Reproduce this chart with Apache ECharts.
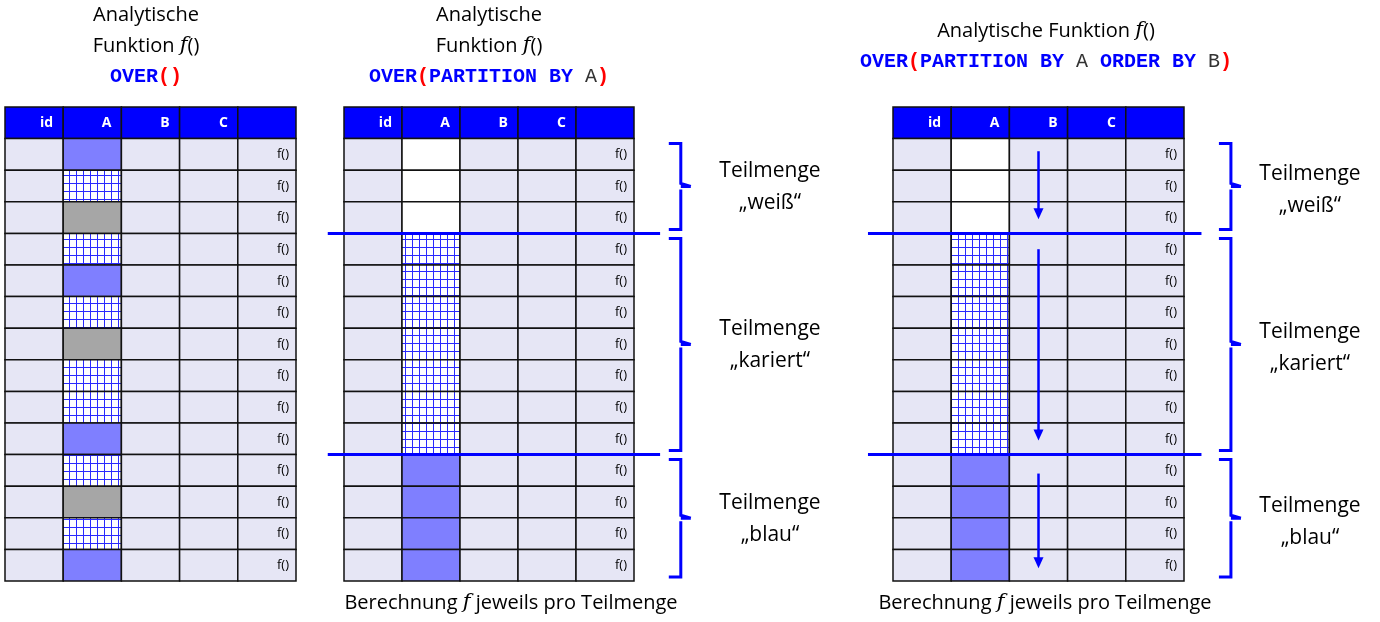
<!DOCTYPE html>
<html><head><meta charset="utf-8">
<script src="https://cdn.jsdelivr.net/npm/echarts@6/dist/echarts.min.js"></script>
<style>html,body{margin:0;padding:0;background:#fff}#main{width:1380px;height:622px}</style>
</head><body><div id="main"></div>
<script>
// Spaltenkoepfe und Zellinhalte
var headers = ['id', 'A', 'B', 'C', ''];
var colA1 = ['blue','check','gray','check','blue','check','gray','check','check','blue','check','gray','check','blue'];
var colA2 = ['white','white','white','check','check','check','check','check','check','check','blue','blue','blue','blue'];
var groups = [[0, 3, 'Teilmenge', '\u201eweiß\u201c'], [3, 10, 'Teilmenge', '\u201ekariert\u201c'], [10, 14, 'Teilmenge', '\u201eblau\u201c']];
var splitRows = [3, 10];

var fills = { base: '#e6e6f5', head: '#0000ff', blue: '#7f7fff', gray: '#a6a6a6', white: '#ffffff' };

// Karomuster
var pc = document.createElement('canvas');
pc.width = 7; pc.height = 8;
var g = pc.getContext('2d');
g.fillStyle = '#fff'; g.fillRect(0, 0, 7, 8);
g.fillStyle = '#2a2aff'; g.fillRect(6, 0, 1, 8); g.fillRect(0, 7, 7, 1);
fills.check = { image: pc, repeat: 'repeat' };

function buildCells(colA) {
    var out = [];
    for (var c = 0; c < 5; c++) out.push([c, 0, 'head', headers[c]]);
    for (var r = 0; r < colA.length; r++) {
        for (var c = 0; c < 5; c++) {
            out.push([c, r + 1, c == 1 ? colA[r] : 'base', c == 4 ? 'f()' : '']);
        }
    }
    return out;
}

function cellSeries(idx, cells) {
    return {
        type: 'custom', xAxisIndex: idx, yAxisIndex: idx, silent: true,
        data: cells.map(function (d) { return [d[0], d[1]]; }),
        renderItem: function (params, api) {
            var d = cells[params.dataIndex];
            var p0 = api.coord([d[0], d[1]]), p1 = api.coord([d[0] + 1, d[1] + 1]);
            var head = d[2] == 'head';
            return {
                type: 'group', children: [
                    { type: 'rect', shape: { x: p0[0], y: p0[1], width: p1[0] - p0[0], height: p1[1] - p0[1] },
                      style: { fill: fills[d[2]], stroke: '#111', lineWidth: 1.5 } },
                    { type: 'text', style: { text: d[3], x: p1[0] - (head ? 10 : 7), y: (p0[1] + p1[1]) / 2,
                      align: 'right', verticalAlign: 'middle', fill: head ? '#fff' : '#000',
                      font: (head ? 'bold 14px' : '13px') + ' "Open Sans", sans-serif' } }
                ]
            };
        }
    };
}

function lineSeries(idx, x0, x1) {
    return {
        type: 'custom', xAxisIndex: idx, yAxisIndex: idx, silent: true,
        data: splitRows.map(function (r) { return [r + 1]; }),
        renderItem: function (params, api) {
            var r = api.value(0);
            var a = api.coord([x0, r]), b = api.coord([x1, r]);
            return { type: 'line', shape: { x1: a[0], y1: a[1], x2: b[0], y2: b[1] }, style: { stroke: '#0000ff', lineWidth: 3 } };
        }
    };
}

function braceSeries(idx, bx) {
    return {
        type: 'custom', xAxisIndex: idx, yAxisIndex: idx, silent: true,
        data: groups.map(function (gr) { return [gr[0] + 1, gr[1] + 1]; }),
        renderItem: function (params, api) {
            var t = api.coord([bx, api.value(0)]), b = api.coord([bx, api.value(1)]);
            var x0 = t[0], x1 = x0 + 12, x2 = x0 + 22;
            var y0 = t[1] + 5, y1 = b[1] - 4, ym = (y0 + y1) / 2;
            var path = 'M' + x0 + ' ' + y0 + ' L' + x1 + ' ' + y0 + ' L' + x1 + ' ' + (ym - 3) + ' L' + x2 + ' ' + ym +
                ' M' + x1 + ' ' + (ym + 3) + ' L' + x1 + ' ' + y1 + ' L' + x0 + ' ' + y1 + ' M' + x1 + ' ' + ym + ' L' + x2 + ' ' + ym;
            return { type: 'path', shape: { pathData: path }, style: { fill: null, stroke: '#0000ff', lineWidth: 3 } };
        }
    };
}

function arrowSeries(idx) {
    var spans = [[1.4, 3.55], [4.5, 10.55], [11.6, 14.6]];
    return {
        type: 'custom', xAxisIndex: idx, yAxisIndex: idx, silent: true,
        data: spans,
        renderItem: function (params, api) {
            var a = api.coord([2.5, api.value(0)]), b = api.coord([2.5, api.value(1)]);
            return { type: 'group', children: [
                { type: 'line', shape: { x1: a[0], y1: a[1], x2: b[0], y2: b[1] - 8 }, style: { stroke: '#0000ff', lineWidth: 2.5 } },
                { type: 'polygon', shape: { points: [[b[0] - 5, b[1] - 11], [b[0] + 5, b[1] - 11], [b[0], b[1]]] }, style: { fill: '#0000ff' } }
            ] };
        }
    };
}

var grids = [
    { left: 5, top: 107, width: 291, height: 474 },
    { left: 344, top: 107, width: 290, height: 474 },
    { left: 893, top: 107, width: 291, height: 474 }
];
var xAxes = [], yAxes = [];
grids.forEach(function (gr, i) {
    xAxes.push({ type: 'value', gridIndex: i, min: 0, max: 5, show: false });
    yAxes.push({ type: 'value', gridIndex: i, min: 0, max: 15, inverse: true, show: false });
});

var sans = '"Open Sans", "Noto Sans", sans-serif';
var rich = {
    t: { font: '20px ' + sans, fill: '#000', lineHeight: 30 },
    f: { font: 'italic 21px "DejaVu Serif", serif', fill: '#000' },
    k: { font: 'bold 20px "Liberation Mono", monospace', fill: '#0000ff' },
    p: { font: 'bold 20px "Liberation Mono", monospace', fill: '#ff0000' },
    n: { font: '20px "Liberation Mono", monospace', fill: '#333' }
};
function txt(x, y, t, extra) {
    return { type: 'text', x: x, y: y, style: Object.assign({ text: t, align: 'center', verticalAlign: 'middle', font: '21px ' + sans, fill: '#000', lineHeight: 31 }, extra || {}) };
}
function title(x, y, t) {
    return { type: 'text', x: x, y: y, style: { text: t, rich: rich, align: 'center', verticalAlign: 'middle' } };
}

var graphics = [
    title(146, 15, '{t|Analytische}'),
    title(146, 46, '{t|Funktion }{f|f}{t|()}'),
    title(146, 77, '{k|OVER}{p|()}'),
    title(489, 15, '{t|Analytische}'),
    title(489, 46, '{t|Funktion }{f|f}{t|()}'),
    title(489, 77, '{k|OVER}{p|(}{k|PARTITION BY }{n|A}{p|)}'),
    title(1046, 31, '{t|Analytische Funktion }{f|f}{t|()}'),
    title(1046, 62, '{k|OVER}{p|(}{k|PARTITION BY }{n|A }{k|ORDER BY }{n|B}{p|)}'),
    title(511, 603, '{t|Berechnung }{f|f}{t| jeweils pro Teilmenge}'),
    title(1045, 603, '{t|Berechnung }{f|f}{t| jeweils pro Teilmenge}')
];
var labelY = [[171, 203], [329, 361], [503, 535]];
[770, 1310].forEach(function (cx, k) {
    labelY.forEach(function (ly, i) {
        graphics.push(txt(cx, ly[0] + (k ? 3 : 0), groups[i][2]));
        graphics.push(txt(cx, ly[1] + (k ? 3 : 0), groups[i][3]));
    });
});

var chart = echarts.init(document.getElementById('main'));
chart.setOption({
    animation: false,
    grid: grids, xAxis: xAxes, yAxis: yAxes,
    series: [
        cellSeries(0, buildCells(colA1)),
        cellSeries(1, buildCells(colA2)),
        cellSeries(2, buildCells(colA2)),
        lineSeries(1, -0.28, 5.45),
        lineSeries(2, -0.43, 5.3),
        braceSeries(1, 5.6),
        braceSeries(2, 5.6),
        arrowSeries(2)
    ],
    graphic: graphics
});
</script></body></html>
